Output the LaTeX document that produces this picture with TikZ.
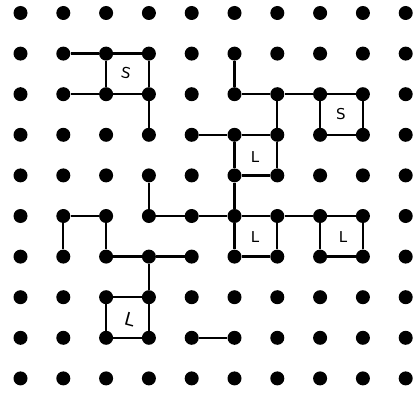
\documentclass[tikz,border=0pt]{standalone}
\usepackage{fontspec}
\setmainfont{DejaVu Sans}
\begin{document}
\begin{tikzpicture}[x=1pt,y=-1pt,
  dot/.style={circle,fill=black,inner sep=0pt,minimum size=14},
  edge/.style={line width=2.3,black},
  lab/.style={font=\fontsize{15}{15}\selectfont,inner sep=0pt}]
\useasboundingbox (0,0) rectangle (420,393);
\foreach \c in {0,...,9}{
  \foreach \r in {0,...,9}{
    \node[dot] (n-\c-\r) at ({20.5+\c*42.8},{13+\r*40.6}) {};
  }
}
% upper-left S square and lines
\draw[edge] (n-1-1) -- (n-2-1) -- (n-3-1) -- (n-3-2) -- (n-3-3);
\draw[edge] (n-1-2) -- (n-2-2) -- (n-3-2);
\draw[edge] (n-2-1) -- (n-2-2);
% upper-right structure
\draw[edge] (n-5-1) -- (n-5-2) -- (n-6-2) -- (n-7-2) -- (n-8-2) -- (n-8-3) -- (n-7-3) -- (n-7-2);
\draw[edge] (n-6-2) -- (n-6-3);
\draw[edge] (n-4-3) -- (n-5-3) -- (n-6-3) -- (n-6-4) -- (n-5-4) -- (n-5-3);
\draw[edge] (n-5-4) -- (n-5-5);
% middle row
\draw[edge] (n-3-4) -- (n-3-5) -- (n-4-5) -- (n-5-5) -- (n-6-5) -- (n-7-5) -- (n-8-5) -- (n-8-6) -- (n-7-6) -- (n-7-5);
\draw[edge] (n-5-5) -- (n-5-6) -- (n-6-6) -- (n-6-5);
% lower-left
\draw[edge] (n-1-6) -- (n-1-5) -- (n-2-5) -- (n-2-6) -- (n-3-6) -- (n-4-6);
\draw[edge] (n-3-6) -- (n-3-7) -- (n-3-8) -- (n-2-8) -- (n-2-7) -- (n-3-7);
\draw[edge] (n-4-8) -- (n-5-8);
% letters
\node[lab,rotate=-10] (s1) at (126,73) {S};
\node[lab] (s2) at (341,114) {S};
\node[lab] (l1) at (255,157) {L};
\node[lab] (l2) at (255,237) {L};
\node[lab] (l3) at (343,237) {L};
\node[lab,rotate=-15,font=\fontsize{18}{18}\selectfont] (l4) at (130,319) {L};
\end{tikzpicture}
\end{document}
